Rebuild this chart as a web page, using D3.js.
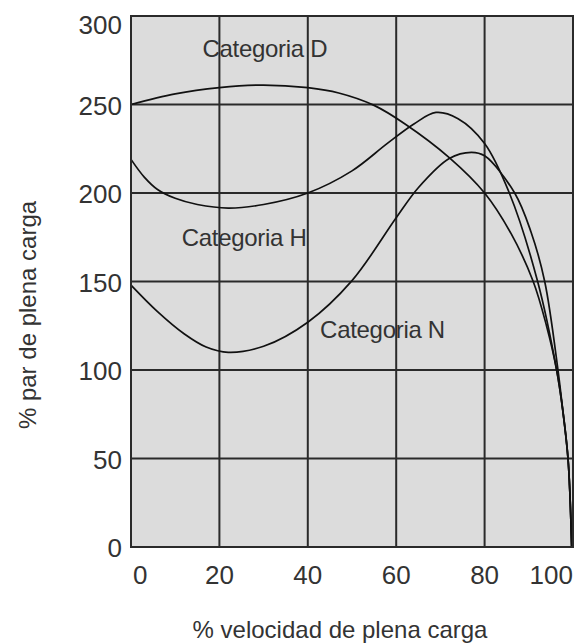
<!DOCTYPE html>
<html>
<head>
<meta charset="utf-8">
<script src="https://cdn.jsdelivr.net/npm/d3@7"></script>
<style>
  body { margin: 0; background: #fff; }
  text { font-family: "Liberation Sans", Arial, sans-serif; fill: #333; }
</style>
</head>
<body>
<div id="main"></div>
<script>
// data: [% speed, % torque]
var xTicks = [0, 20, 40, 60, 80, 100];
var yTicks = [0, 50, 100, 150, 200, 250, 300];
var seriesNames = ["Categoria D", "Categoria H", "Categoria N"];

var categoriaD = [[0, 250], [10, 256], [20, 259.5], [30, 261], [40, 259.5], [47, 256.5], [55, 249.5],
  [62, 239], [72, 220], [80, 200], [86, 177], [91, 150], [94, 125], [96.3, 100], [97.7, 77],
  [98.9, 49], [99.7, 0]];
var categoriaH = [[0, 219], [3, 209], [6, 202], [10, 197], [15, 193.5], [22, 191.5], [30, 193.5],
  [40, 200], [50, 212.5], [58, 228], [64, 239], [69, 245.5], [74, 242], [80, 228], [85.6, 200],
  [92, 150], [96.3, 100], [97.7, 77], [98.9, 49], [99.7, 0]];
var categoriaN = [[0, 148], [6, 133], [12, 120.5], [17, 113], [22, 110], [30, 113.4], [40, 127],
  [50, 150.5], [60, 186], [65, 203], [72, 219.5], [77, 223], [80, 221], [86.8, 200], [90.5, 178],
  [93.6, 150], [96.6, 100], [97.7, 77], [98.9, 49], [99.7, 0]];

var width = 576;
var height = 644;

var svg = d3.select('#main')
  .append('svg')
  .attr('width', width)
  .attr('height', height);

var x = d3.scaleLinear().domain([0, 100]).range([131, 573]);
var y = d3.scaleLinear().domain([0, 300]).range([547, 16]);

// plot background
svg.append('rect')
  .attr('x', x(0))
  .attr('y', y(300))
  .attr('width', x(100) - x(0))
  .attr('height', y(0) - y(300))
  .attr('fill', '#dcdcdc');

// grid
svg.append('g')
  .selectAll('line')
  .data(xTicks)
  .enter().append('line')
  .attr('x1', function(d) { return x(d); })
  .attr('x2', function(d) { return x(d); })
  .attr('y1', y(0))
  .attr('y2', y(300))
  .attr('stroke', '#2a2a2a')
  .attr('stroke-width', 2);

svg.append('g')
  .selectAll('line')
  .data(yTicks)
  .enter().append('line')
  .attr('x1', x(0))
  .attr('x2', x(100))
  .attr('y1', function(d) { return y(d); })
  .attr('y2', function(d) { return y(d); })
  .attr('stroke', '#2a2a2a')
  .attr('stroke-width', 2);

// tick labels
svg.append('g')
  .selectAll('text')
  .data(xTicks)
  .enter().append('text')
  .attr('x', function(d, i) { return i === 0 ? x(d) + 2 : x(d); })
  .attr('y', 584)
  .attr('text-anchor', function(d, i) {
    if (i === 0) return 'start';
    if (i === xTicks.length - 1) return 'end';
    return 'middle';
  })
  .style('font-size', '26px')
  .text(function(d) { return d; });

svg.append('g')
  .selectAll('text')
  .data(yTicks)
  .enter().append('text')
  .attr('x', 122)
  .attr('y', function(d) { return y(d) + (d === 300 ? 9 : 1); })
  .attr('dy', '0.35em')
  .attr('text-anchor', 'end')
  .style('font-size', '26px')
  .text(function(d) { return d; });

// curves
var line = d3.line()
  .x(function(d) { return x(d[0]); })
  .y(function(d) { return y(d[1]); })
  .curve(d3.curveCatmullRom.alpha(0.5));

svg.append('g')
  .selectAll('path')
  .data([categoriaD, categoriaH, categoriaN])
  .enter().append('path')
  .attr('d', line)
  .attr('fill', 'none')
  .attr('stroke', '#111')
  .attr('stroke-width', 1.7);

// curve labels, placed in data units
var labelSpots = [[30.3, 276.8], [25.6, 170], [56.9, 118]];
svg.append('g')
  .selectAll('text')
  .data(seriesNames)
  .enter().append('text')
  .attr('x', function(d, i) { return x(labelSpots[i][0]); })
  .attr('y', function(d, i) { return y(labelSpots[i][1]); })
  .attr('text-anchor', 'middle')
  .style('font-size', '24px')
  .style('letter-spacing', '-0.3px')
  .text(function(d) { return d; });

// frame
svg.append('rect')
  .attr('x', x(0))
  .attr('y', y(300))
  .attr('width', x(100) - x(0))
  .attr('height', y(0) - y(300))
  .attr('fill', 'none')
  .attr('stroke', '#2a2a2a')
  .attr('stroke-width', 2);

// axis titles
svg.append('text')
  .attr('x', 340)
  .attr('y', 638)
  .attr('text-anchor', 'middle')
  .style('font-size', '24px')
  .text('% velocidad de plena carga');

svg.append('text')
  .attr('transform', 'translate(36, 315) rotate(-90)')
  .attr('text-anchor', 'middle')
  .style('font-size', '24px')
  .text('% par de plena carga');
</script>
</body>
</html>
